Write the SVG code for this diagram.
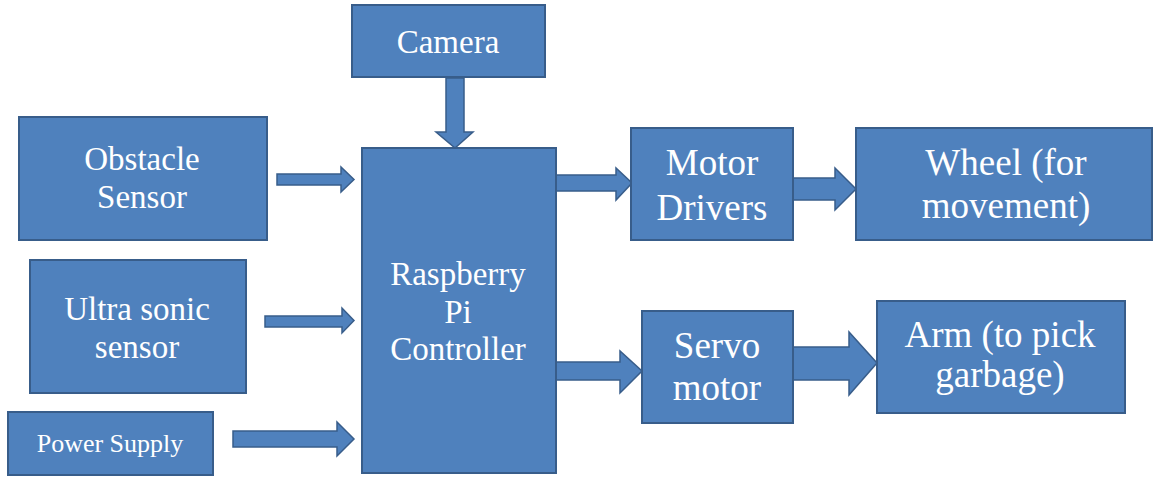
<svg xmlns="http://www.w3.org/2000/svg" width="1153" height="477" viewBox="0 0 1153 477">
<style>
.box{fill:#4f81bd;stroke:#385d8a;stroke-width:2}
.arr{fill:#4f81bd;stroke:#385d8a;stroke-width:1.5;stroke-linejoin:miter}
text{font-family:'Liberation Serif','DejaVu Serif',serif;fill:#ffffff;text-anchor:middle}
.l{font-size:33px}
.r{font-size:37px}
.s{font-size:26px}
</style>
<rect width="1153" height="477" fill="#ffffff"/>
<g id="connectors">
<polygon class="arr" points="446,78 464,78 464,132 473,132 455,148 436,132 446,132"/>
<polygon class="arr" points="277,174 341,174 341,167 354,179.5 341,192 341,185 277,185"/>
<polygon class="arr" points="265,316 342,316 342,308 354,320.5 342,333 342,327 265,327"/>
<polygon class="arr" points="233,431 337,431 337,422 354,439 337,456 337,447 233,447"/>
<polygon class="arr" points="556,175 616,175 616,168 632,183 616,200 616,191 556,191"/>
<polygon class="arr" points="793,178 835,178 835,168 856,189 835,210 835,200 793,200"/>
<polygon class="arr" points="556,362 620,362 620,351 642,371 620,393 620,380 556,380"/>
<polygon class="arr" points="793,347 849,347 849,332 877,363 849,395 849,380 793,380"/>
</g>
<g id="camera">
<rect class="box" x="352" y="5" width="193" height="72"/>
<text class="l" x="448" y="53" font-family="Liberation Serif, serif">Camera</text>
</g>
<g id="obstacle">
<rect class="box" x="19" y="117" width="248" height="123"/>
<text class="l" x="142" y="170">Obstacle</text>
<text class="l" x="142" y="208">Sensor</text>
</g>
<g id="ultrasonic">
<rect class="box" x="30" y="260" width="216" height="133"/>
<text class="l" x="137" y="320">Ultra sonic</text>
<text class="l" x="137" y="358">sensor</text>
</g>
<g id="power">
<rect class="box" x="8" y="412" width="205" height="63"/>
<text class="s" x="110" y="452">Power Supply</text>
</g>
<g id="raspberry">
<rect class="box" x="362" y="148" width="194" height="325"/>
<text class="l" x="458" y="285">Raspberry</text>
<text class="l" x="458" y="323">Pi</text>
<text class="l" x="458" y="360">Controller</text>
</g>
<g id="motordrivers">
<rect class="box" x="631" y="128" width="162" height="112"/>
<text class="r" x="712" y="175">Motor</text>
<text class="r" x="712" y="220">Drivers</text>
</g>
<g id="wheel">
<rect class="box" x="856" y="128" width="296" height="112"/>
<text class="r" x="1006" y="175">Wheel (for</text>
<text class="r" x="1006" y="218">movement)</text>
</g>
<g id="servo">
<rect class="box" x="642" y="311" width="151" height="112"/>
<text class="r" x="717" y="358">Servo</text>
<text class="r" x="717" y="400">motor</text>
</g>
<g id="arm">
<rect class="box" x="877" y="301" width="248" height="112"/>
<text class="r" x="1000" y="347">Arm (to pick</text>
<text class="r" x="1000" y="387">garbage)</text>
</g>
</svg>
